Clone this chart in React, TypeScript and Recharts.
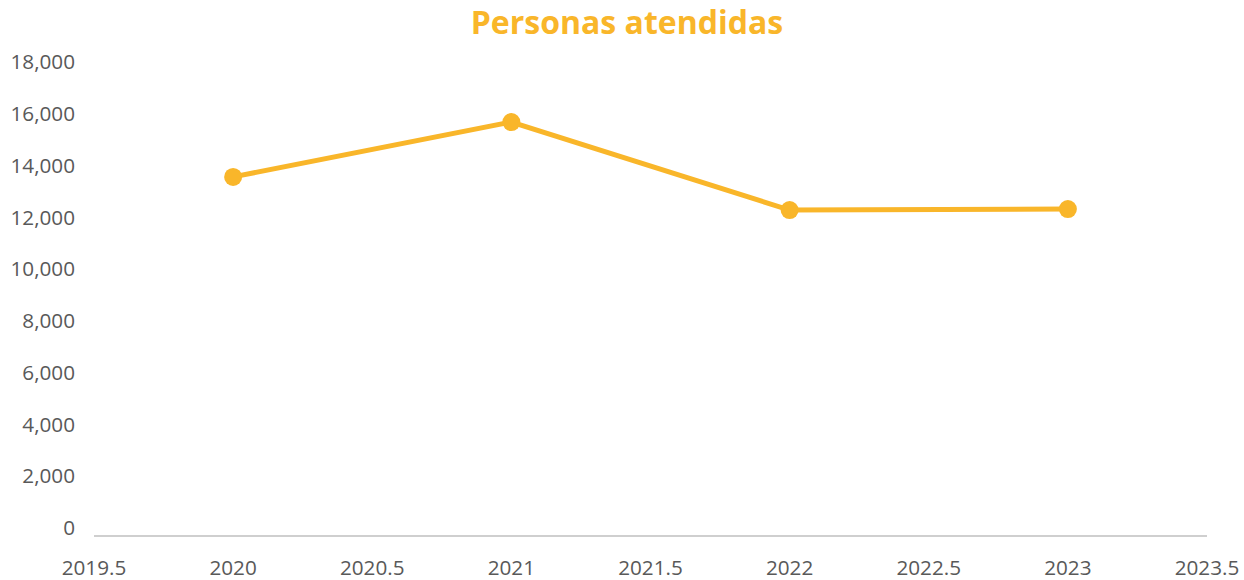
import { CartesianGrid, Line, LineChart, XAxis, YAxis } from "recharts";

const years = [2020, 2021, 2022, 2023];
const attended = [13870, 15990, 12590, 12630];
const xTicks = [2019.5, 2020, 2020.5, 2021, 2021.5, 2022, 2022.5, 2023, 2023.5];
const yTicks = [0, 2000, 4000, 6000, 8000, 10000, 12000, 14000, 16000, 18000];

const data = years.map((y, i) => ({ year: y, value: attended[i] }));

const gold = "#F9B62A";
const grey = "#595959";
const font = "'Open Sans', sans-serif";

function YTick(props: any) {
  const { x, y, payload } = props;
  return (
    <text x={x} y={y - 8} dy="0.35em" textAnchor="end" fill={grey} fontSize={20.7} fontFamily={font}>
      {payload.value.toLocaleString("en-US")}
    </text>
  );
}

export default function App() {
  return (
    <div style={{ position: "absolute", left: 0, top: 0, width: 1244, height: 580, background: "#fff" }}>
      <div
        style={{
          position: "absolute",
          top: 0,
          left: 0,
          width: 1254,
          textAlign: "center",
          fontFamily: font,
          fontWeight: 700,
          fontSize: 32,
          color: gold,
        }}
      >
        Personas atendidas
      </div>
      <LineChart width={1244} height={580} data={data} margin={{ top: 70, right: 37, bottom: 0, left: 0 }}>
        <CartesianGrid horizontal={false} vertical={false} />
        <XAxis
          dataKey="year"
          type="number"
          domain={[2019.5, 2023.5]}
          ticks={xTicks}
          height={44}
          tickSize={0}
          tickMargin={24}
          stroke="#bfbfbf"
          strokeWidth={1.5}
          tick={{ fill: grey, fontSize: 20.7, fontFamily: font }}
          interval={0}
        />
        <YAxis
          domain={[0, 18000]}
          ticks={yTicks}
          width={94}
          axisLine={false}
          tickLine={false}
          tickSize={0}
          tickMargin={19}
          tick={<YTick />}
          interval={0}
        />
        <Line
          dataKey="value"
          stroke={gold}
          strokeWidth={5}
          dot={{ r: 9, fill: gold, stroke: gold, strokeWidth: 0 }}
          isAnimationActive={false}
        />
      </LineChart>
    </div>
  );
}
